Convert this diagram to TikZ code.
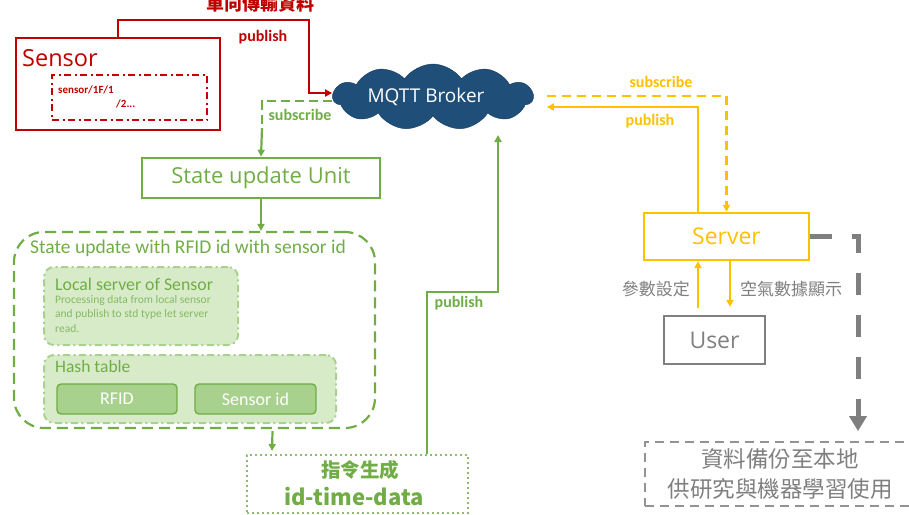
\documentclass[tikz,border=0pt]{standalone}
\usepackage{fontspec}
\setmainfont{Open Sans}
\newfontfamily\calib{Carlito}
\newfontfamily\cjk{Noto Sans CJK TC}
\usetikzlibrary{calc,shapes.symbols,arrows.meta}

\definecolor{cred}{HTML}{C00000}
\definecolor{cgreen}{HTML}{70AD47}
\definecolor{cgold}{HTML}{FFC000}
\definecolor{cgray}{HTML}{7F7F7F}
\definecolor{cblue}{HTML}{1F4E79}
\definecolor{clight}{HTML}{D8EBC9}
\definecolor{cmid}{HTML}{A9D18E}

\tikzset{
  box/.style={draw, rectangle, inner sep=0pt, align=center},
  dashdot/.style={dash pattern=on 7pt off 3.5pt on 2pt off 3.5pt},
  arr/.style={-{Triangle[length=7pt,width=7pt]}},
  lbl/.style={font=\calib\bfseries\fontsize{16}{19}\selectfont, inner sep=0pt},
}

\begin{document}
\begin{tikzpicture}[x=1pt,y=-1pt]
\useasboundingbox (0,0) rectangle (909,514);
\clip (0,0) rectangle (909,514);

% ---------- sensor ----------
\node[box, draw=cred, line width=2.4pt, minimum width=204pt, minimum height=92pt] (sensor) at (118,84) {};
\node[anchor=west, text=cred, font=\fontsize{23.5}{26}\selectfont, inner sep=0pt] (sensortitle) at (22,58) {Sensor};
\node[box, draw=cred, line width=1.8pt, dashdot, minimum width=155pt, minimum height=45pt] (topics) at (129.5,97.5) {};
\node[anchor=west, text=cred, font=\calib\bfseries\fontsize{11}{13}\selectfont, inner sep=0pt] (t1) at (58,90) {sensor/1F/1};
\node[anchor=west, text=cred, font=\calib\bfseries\fontsize{11}{13}\selectfont, inner sep=0pt] (t2) at (116,104) {/2...};

% ---------- broker ----------
\node[cloud, cloud puffs=11, cloud puff arc=110, aspect=3.2, fill=cblue, draw=cblue!80!black, line width=0.4pt,
      minimum width=200pt, minimum height=66pt, inner sep=0pt] (broker) at (433,97) {};
\node[text=white, font=\fontsize{19}{22}\selectfont, inner sep=0pt] (brokertext) at (426,97) {MQTT Broker};

% ---------- green chain ----------
\node[box, draw=cgreen, line width=2.6pt, minimum width=238pt, minimum height=40pt,
      text=cgreen, font=\fontsize{22}{26}\selectfont] (sunit) at (261,178) {State update Unit};

\node[box, draw=cgreen, line width=2.2pt, dash pattern=on 11pt off 6pt, rounded corners=30pt,
      minimum width=361pt, minimum height=196pt] (big) at (194.5,330) {};
\node[anchor=west, text=cgreen, font=\calib\fontsize{19.5}{22}\selectfont, inner sep=0pt] (bigtitle) at (30,248) {State update with RFID id with sensor id};

\node[box, draw=cmid, fill=clight, line width=2pt, dashdot, rounded corners=10pt,
      minimum width=194pt, minimum height=78pt] (local) at (141,306) {};
\node[anchor=west, text=cgreen, font=\calib\fontsize{17.8}{20}\selectfont, inner sep=0pt] (localtitle) at (55,284) {Local server of Sensor};
\node[anchor=north west, text=cgreen!85, font=\calib\fontsize{11.5}{14.5}\selectfont, inner sep=0pt, align=left] (localtext) at (55,295)
  {Processing data from local sensor\\and publish to std type let server\\read.};

\node[box, draw=cmid, fill=clight, line width=2pt, dashdot, rounded corners=10pt,
      minimum width=292pt, minimum height=68pt] (hash) at (190,389) {};
\node[anchor=west, text=cgreen, font=\calib\fontsize{17.5}{20}\selectfont, inner sep=0pt] (hashtitle) at (55,366) {Hash table};
\node[box, draw=cgreen, fill=cmid, line width=1.4pt, rounded corners=4pt, minimum width=120pt, minimum height=30pt,
      text=white, font=\calib\fontsize{18}{20}\selectfont] (rfid) at (117,399) {RFID};
\node[box, draw=cgreen, fill=cmid, line width=1.4pt, rounded corners=4pt, minimum width=121pt, minimum height=30pt,
      text=white, font=\calib\fontsize{18}{20}\selectfont] (sid) at (255.5,399) {Sensor id};

\node[box, draw=cgreen!80, line width=2pt, dash pattern=on 2pt off 3pt, minimum width=221pt, minimum height=58pt] (cmd) at (357.5,484) {};
\node[text=cgreen, font=\cjk\bfseries\fontsize{19.5}{22}\selectfont, inner sep=0pt] (cmdcjk) at (360,470) {指令生成};
\node[text=cgreen, font=\cjk\bfseries\fontsize{22}{25}\selectfont, inner sep=0pt] (cmdtext) at (354,497) {id-time-data};

% ---------- server side ----------
\node[box, draw=cgold, line width=2.4pt, minimum width=165pt, minimum height=47pt,
      text=cgold, font=\fontsize{23}{26}\selectfont] (server) at (726.5,236.5) {Server};
\node[box, draw=cgray, line width=2.4pt, minimum width=101pt, minimum height=48pt,
      text=cgray, font=\fontsize{23}{26}\selectfont] (user) at (714.5,340) {User};
\node[box, draw=cgray!85, line width=1.8pt, dash pattern=on 9pt off 6pt, minimum width=270pt, minimum height=64pt,
      text=cgray, font=\cjk\fontsize{22.5}{30}\selectfont] (backup) at (780,474)
  {資料備份至本地\\供研究與機器學習使用};

% ---------- connectors ----------
% sensor -> broker (publish)
\draw[cred, line width=2.2pt, arr] (sensor.north) |- (309,20) |- ($(broker.west)+(0,-4)$);
\node[lbl, text=cred] (pubred) at (263,37) {publish};
\node[text=cred, font=\cjk\bfseries\fontsize{18}{20}\selectfont, inner sep=0pt] (oneway) at (260,4) {單向傳輸資料};

% broker -> state update unit (subscribe)
\draw[cgreen, line width=2.2pt, dash pattern=on 9pt off 5pt] ($(broker.west)+(0,4)$) -| (262,128);
\draw[cgreen, line width=2.2pt, arr] (262,128) -- (sunit.north);
\node[lbl, text=cgreen] (subgreen) at (300,115) {subscribe};

% state update unit -> state box
\draw[cgreen, line width=2.2pt, arr] (sunit.south) -- (sunit.south |- big.north);
% state box -> command
\draw[cgreen, line width=2.2pt, arr] ($(big.south)+(78,2)$) -- ($(cmd.north)+(-85.5,-3)$);

% command -> broker (publish)
\draw[cgreen, line width=2.2pt, arr] ($(cmd.north)+(69.5,0)$) |- (498,292) -- (498,135);
\node[lbl, text=cgreen] (pubgreen) at (459,303) {publish};

% broker -> server (subscribe), server -> broker (publish)
\draw[cgold, line width=2.2pt, dash pattern=on 9pt off 6pt, arr] ($(broker.east)+(13,-1)$) -| (server.north);
\node[lbl, text=cgold] (subgold) at (661,82) {subscribe};
\draw[cgold, line width=2.2pt, arr] ($(server.north)+(-28.5,0)$) |- ($(broker.east)+(13,10)$);
\node[lbl, text=cgold] (pubgold) at (650,121) {publish};

% server <-> user
\draw[cgold, line width=2.2pt, arr] ($(user.north)+(-16.5,-7)$) -- ($(server.south)+(-28.5,0)$);
\draw[cgold, line width=2.2pt, arr] ($(server.south)+(3.5,0)$) -- ($(user.north)+(15.5,-8)$);
\node[anchor=east, text=cgray, font=\cjk\fontsize{17}{20}\selectfont, inner sep=0pt] (setp) at (690,289) {參數設定};
\node[anchor=west, text=cgray, font=\cjk\fontsize{17}{20}\selectfont, inner sep=0pt] (showp) at (740,289) {空氣數據顯示};

% server -> backup
\draw[cgray, line width=5pt, dash pattern=on 22pt off 20pt, -{Triangle[length=15pt,width=17pt]}]
  (server.east) -| ($(backup.north)+(78,-10)$);
\end{tikzpicture}
\end{document}
